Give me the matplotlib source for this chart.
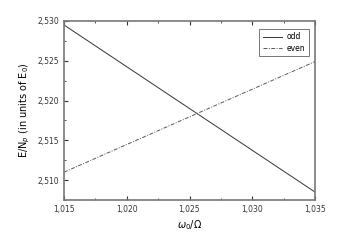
import numpy as np
import matplotlib
matplotlib.use('Agg')
import matplotlib.pyplot as plt
from matplotlib.ticker import FuncFormatter, MultipleLocator

# datos
omega = [1.015, 1.035]
odd_vals = [2.5295, 2.5085]
even_vals = [2.5110, 2.5249]

fig = plt.figure(figsize=(3.41, 2.48), dpi=100)
ax = fig.add_axes([64 / 341, 1 - 200 / 248, (315 - 64) / 341, (200 - 21) / 248])

ax.plot(omega, odd_vals, color='#333333', lw=0.7, label='odd')
ax.plot(omega, even_vals, color='#555555', lw=0.7, ls=(0, (4, 1.5, 1, 1.5)), label='even')

ax.set_xlim(1.015, 1.035)
ax.set_ylim(2.5075, 2.530)
ax.xaxis.set_major_locator(MultipleLocator(0.005))
ax.xaxis.set_minor_locator(MultipleLocator(0.0025))
ax.yaxis.set_major_locator(MultipleLocator(0.005))
ax.yaxis.set_minor_locator(MultipleLocator(0.0025))
coma = FuncFormatter(lambda v, p: f'{v:.3f}'.replace('.', ','))
ax.xaxis.set_major_formatter(coma)
ax.yaxis.set_major_formatter(coma)

ax.tick_params(which='both', direction='in', top=True, right=False, labelsize=5.5, colors='#333333')
ax.tick_params(which='major', length=3, width=0.8)
ax.tick_params(which='minor', length=1.5, width=0.6)
for s in ax.spines.values():
    s.set_color('#777777')
    s.set_linewidth(1.2)

ax.set_xlabel(r'$\omega_0/\Omega$', fontsize=7, labelpad=3)
ax.set_ylabel(r'E/N$_p$ (in units of E$_0$)', fontsize=7, labelpad=4)

leg = ax.legend(loc='upper right', fontsize=5.5, frameon=True, fancybox=False,
                edgecolor='#555555', handlelength=2.6, borderpad=0.4,
                labelspacing=0.3, handletextpad=0.6,
                bbox_to_anchor=(0.99, 0.975))
leg.get_frame().set_linewidth(0.7)

fig.savefig('out.png', dpi=100)
